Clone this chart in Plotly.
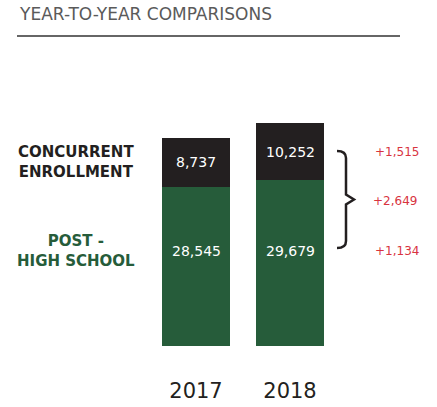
import plotly.graph_objects as go

years = ["2017", "2018"]
post_high_school = [28545, 29679]
concurrent = [8737, 10252]
diff_concurrent = "+1,515"
diff_total = "+2,649"
diff_post = "+1,134"
title_text = "YEAR-TO-YEAR COMPARISONS"

GREEN = "#265c3a"
BLACK = "#231f20"
RED = "#d8343f"

W, H = 437, 407
ML, MR, MT, MB = 149, 100, 60, 61
YMAX = 51200
plot_w = W - ML - MR
plot_h = H - MT - MB


def px_x(px):
    return (px - ML) / plot_w


def px_y(py):
    return (H - MB - py) / plot_h * YMAX


def paper_y(py):
    return (H - py - MB) / plot_h


fig = go.Figure()
fig.add_trace(go.Bar(x=years, y=post_high_school, marker_color=GREEN,
                     marker_line_width=0, hoverinfo="skip", width=0.723))
fig.add_trace(go.Bar(x=years, y=concurrent, marker_color=BLACK,
                     marker_line_width=0, hoverinfo="skip", width=0.723))

num_font = dict(family="DejaVu Sans", size=14, color="white")
GREEN_LABEL_Y = px_y(251)
ann = []
for i, yr in enumerate(years):
    ann.append(dict(x=i, y=post_high_school[i] + concurrent[i] / 2, xref="x", yref="y",
                    xanchor="center", yanchor="middle",
                    text=f"{concurrent[i]:,}", showarrow=False, font=num_font))
    ann.append(dict(x=i, y=GREEN_LABEL_Y, xref="x", yref="y",
                    xanchor="center", yanchor="middle",
                    text=f"{post_high_school[i]:,}", showarrow=False, font=num_font))

top_label_y = post_high_school[1] + concurrent[1] / 2
red_font = dict(family="DejaVu Sans", size=12, color=RED)
for txt, xx, yy in [(diff_concurrent, 397, top_label_y),
                    (diff_post, 397, GREEN_LABEL_Y),
                    (diff_total, 395, (top_label_y + GREEN_LABEL_Y) / 2)]:
    ann.append(dict(x=px_x(xx), y=yy, xref="paper", yref="y", text=txt,
                    xanchor="center", yanchor="middle", showarrow=False, font=red_font))

lab_font = dict(family="DejaVu Sans", size=15, weight="bold")
ann.append(dict(x=px_x(76), y=post_high_school[0] + concurrent[0] / 2, xref="paper", yref="y",
                xanchor="center", yanchor="middle",
                text="CONCURRENT<br>ENROLLMENT", showarrow=False, align="center",
                font=dict(**lab_font, color=BLACK)))
ann.append(dict(x=px_x(76), y=GREEN_LABEL_Y, xref="paper", yref="y",
                xanchor="center", yanchor="middle",
                text="POST -<br>HIGH SCHOOL", showarrow=False, align="center",
                font=dict(**lab_font, color=GREEN)))

ann.append(dict(x=px_x(17), y=paper_y(14), xref="paper", yref="paper",
                xanchor="left", yanchor="middle",
                text=title_text, showarrow=False,
                font=dict(family="DejaVu Sans", size=17, color="#5a5a5a")))

# brace
def P(px, py):
    return f"{px_x(px)},{px_y(py)}"

ytop = 151
ybot = 248
ymid = (ytop + ybot) / 2
brace = (f"M {P(337, ytop)} Q {P(346, ytop)} {P(346, ytop + 7)} "
         f"L {P(346, ymid - 5)} L {P(354, ymid)} L {P(346, ymid + 5)} "
         f"L {P(346, ybot - 7)} Q {P(346, ybot)} {P(337, ybot)}")

shapes = [
    dict(type="path", path=brace, xref="paper", yref="y",
         line=dict(color=BLACK, width=2.5)),
    dict(type="line", xref="paper", yref="paper", x0=px_x(17), x1=px_x(400),
         y0=paper_y(36), y1=paper_y(36), line=dict(color="#333333", width=1.5)),
]

fig.update_layout(
    width=W, height=H,
    margin=dict(l=ML, r=MR, t=MT, b=MB, autoexpand=False),
    barmode="stack",
    showlegend=False,
    plot_bgcolor="white", paper_bgcolor="white",
    annotations=ann, shapes=shapes,
    hovermode=False,
    xaxis=dict(type="category", range=[-0.5, 1.5], showgrid=False, showline=False,
               zeroline=False, ticks="",
               tickfont=dict(family="DejaVu Sans", size=21, color=BLACK),
               ticklabelstandoff=30, fixedrange=True, automargin=False),
    yaxis=dict(range=[0, YMAX], visible=False, showgrid=False, fixedrange=True,
               automargin=False),
)

fig.write_html("out.html", config={"displayModeBar": False},
               post_script="document.body.style.margin='0';document.body.style.padding='0';")
